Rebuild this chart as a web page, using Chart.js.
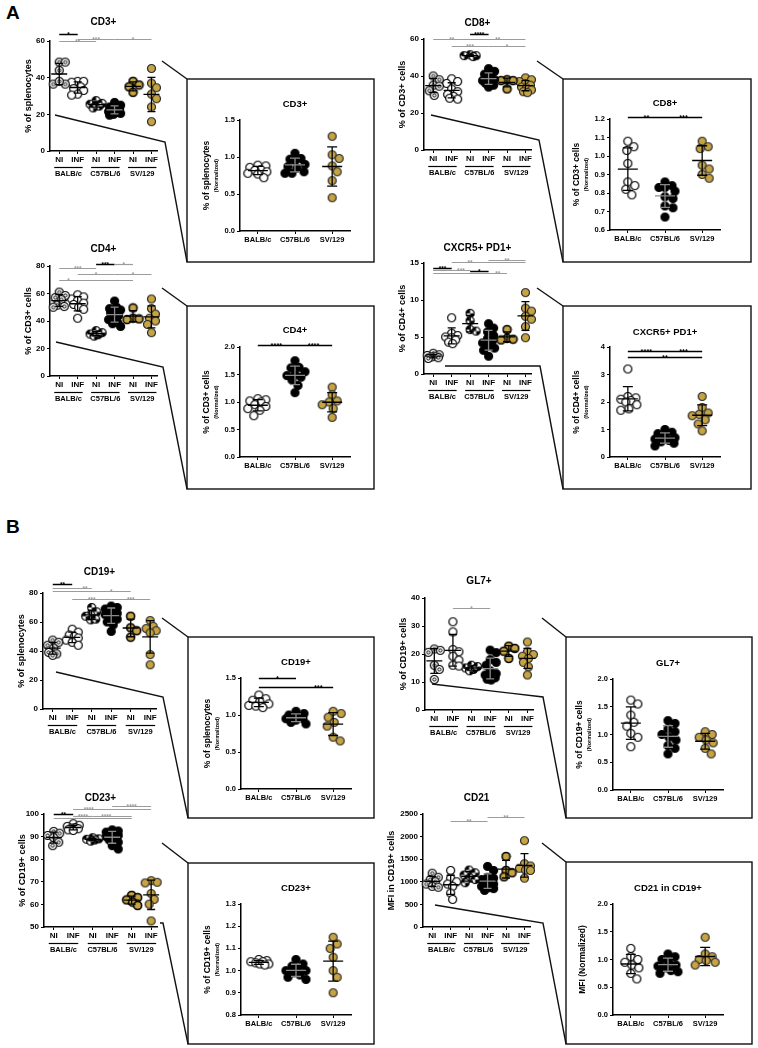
<!DOCTYPE html>
<html>
<head>
<meta charset="utf-8">
<script src="https://cdn.jsdelivr.net/npm/chart.js@4.4.0/dist/chart.umd.min.js"></script>
<style>
  body { margin: 0; background: #fff; }
  #page { position: relative; width: 758px; height: 1048px; overflow: hidden; font-family: "Liberation Sans", Arial, sans-serif; }
  #page canvas { position: absolute; }
  #frame { position: absolute; left: 0; top: 0; }
  .letter { position: absolute; font-weight: bold; font-size: 19px; }
</style>
</head>
<body>
<div id="page">
  <svg id="frame" width="758" height="1048" fill="none" stroke="#111" stroke-width="1.4">
    <rect x="187" y="79" width="187" height="183"/>
    <rect x="563" y="79" width="188" height="183"/>
    <rect x="187" y="306" width="187" height="183"/>
    <rect x="563" y="306" width="188" height="183"/>
    <rect x="188" y="637" width="186" height="181"/>
    <rect x="566" y="637" width="186" height="181"/>
    <rect x="188" y="863" width="186" height="181"/>
    <rect x="566" y="862" width="186" height="182"/>
    <polyline points="55,115 165,142 187,262"/><polyline points="162,61 187,79"/>
    <polyline points="431,115 539,140 563,262"/><polyline points="537,61 563,79"/>
    <polyline points="56,342 163,367 187,489"/><polyline points="162,288 187,306"/>
    <polyline points="445,366 540,366 563,489"/><polyline points="537,288 563,306"/>
    <polyline points="56,672 163,697 188,818"/><polyline points="162,618 188,637"/>
    <polyline points="432,684 543,697 566,818"/><polyline points="542,618 566,637"/>
    <polyline points="160,923 163,923 188,1044"/><polyline points="162,843 188,863"/>
    <polyline points="435,905 543,923 566,1044"/><polyline points="542,843 566,862"/>
  </svg>
  <div class="letter" style="left:6px;top:2px">A</div>
  <div class="letter" style="left:6px;top:516px">B</div>
</div>
<script>
// groups: NI / INF for each strain
const smallCats = ['NI', 'INF', 'NI', 'INF', 'NI', 'INF']
const strains = ['BALB/c', 'C57BL/6', 'SV/129']

// percentages (NI BALB/c, INF BALB/c, NI C57BL/6, INF C57BL/6, NI SV/129, INF SV/129)
const cd3Pct = [
  [48.5, 48.5, 44, 36.5, 36.5, 38],
  [38, 38, 37.5, 35, 34, 33, 31, 30.5],
  [27.5, 26, 25.5, 25, 24.5, 23.5],
  [26.5, 25, 24, 23.5, 23, 22, 21.5, 21, 20.5, 20, 19.5],
  [38, 36, 35, 32],
  [45, 37, 34.5, 31, 28.5, 24, 16]
]
const cd8Pct = [
  [40, 38, 35, 34.5, 32, 29.5],
  [38.5, 37, 36, 33, 31.5, 30, 29, 28, 27.5],
  [51.5, 51, 50.5, 51],
  [44, 42.5, 41, 40, 39, 38, 37.5, 37, 36, 35, 34],
  [38, 37.5, 37.5, 33],
  [39, 38, 37, 36, 35, 34, 33.5, 32.5, 31.5, 31]
]
const cd4Pct = [
  [61, 58.5, 57, 55.5, 51.5, 50, 50.5],
  [59, 57.5, 56, 55, 53, 52, 50, 48.5, 42],
  [33, 31.5, 30.5, 30, 29],
  [54.5, 50, 49, 48, 47, 46, 44, 43, 41, 39, 38, 36],
  [49.5, 42, 41.5, 41],
  [56, 49, 45, 42, 40, 37.5, 31.5]
]
const tfhPct = [
  [2.8, 2.6, 2.5, 2.4, 2.3, 2.2, 2.1],
  [7.6, 5.5, 5.2, 5, 4.9, 4.6, 4.3, 4.1],
  [8.2, 7.2, 6.0, 5.8],
  [6.8, 6.2, 5.7, 5.2, 4.8, 4.5, 4.2, 3.8, 3.5, 3.2, 2.4],
  [6, 4.8, 4.7, 4.6],
  [11, 8.9, 8.5, 7.8, 7.4, 6.4, 4.9]
]
const cd19Pct = [
  [47.5, 46, 44, 42, 39, 38, 37],
  [55, 53, 51, 50, 49, 47.5, 46, 44],
  [70, 67, 65, 64, 61.5, 62],
  [71, 70, 69, 68, 67, 66, 65, 63, 62, 60, 58, 53.5],
  [64, 56, 54, 49.5],
  [61, 57, 55.5, 54, 52.5, 37.5, 30.5]
]
const gl7Pct = [
  [21.8, 21.3, 20.6, 16, 14.5, 10.9],
  [31.5, 27.9, 21.6, 20.8, 19.2, 17.8, 16, 15.7],
  [16, 15.5, 15, 14.5, 14],
  [21.4, 20.5, 18, 17, 16, 14, 13, 12.5, 12, 11.5, 11, 10.7],
  [22.8, 22, 21, 18.4],
  [24.3, 20.8, 19.8, 19.2, 18.4, 17, 15.4, 12.5]
]
const cd23Pct = [
  [92.3, 91.5, 90.5, 89.5, 87.5, 86],
  [95.7, 95, 94.5, 94, 93.8, 93.5, 93, 92.7],
  [89.5, 89, 88.8, 88.5, 88],
  [93, 92.5, 92, 91.5, 91, 90.5, 90, 89.5, 88.5, 87.5, 86, 84.5],
  [64, 63, 62, 61, 59.5],
  [70.5, 69.8, 69.5, 64.8, 62.2, 60.1, 52.7]
]
const cd21Mfi = [
  [1190, 1100, 1050, 1000, 950, 900, 880],
  [1250, 1080, 1000, 950, 900, 750, 610],
  [1260, 1200, 1150, 1080, 980, 1050],
  [1340, 1250, 1100, 1080, 1050, 1000, 980, 950, 900, 870, 850, 810],
  [1560, 1250, 1200, 1110],
  [1910, 1400, 1350, 1300, 1260, 1250, 1080]
]

// normalized values (BALB/c, C57BL/6, SV/129)
const cd3Norm = [[0.89, 0.88, 0.86, 0.83, 0.82, 0.8, 0.78, 0.77, 0.72], [1.05, 0.98, 0.97, 0.95, 0.9, 0.87, 0.85, 0.8, 0.78, 0.78], [1.28, 1.03, 0.98, 0.88, 0.8, 0.68, 0.45]]
const cd8Norm = [[1.08, 1.05, 1.03, 0.96, 0.86, 0.84, 0.82, 0.79], [0.86, 0.84, 0.83, 0.83, 0.81, 0.78, 0.77, 0.73, 0.72, 0.67], [1.08, 1.05, 1.04, 0.95, 0.93, 0.9, 0.88]]
const cd4Norm = [[1.06, 1.04, 1.02, 1.0, 0.95, 0.92, 0.88, 0.85, 0.75], [1.75, 1.63, 1.62, 1.55, 1.5, 1.48, 1.45, 1.4, 1.3, 1.17], [1.27, 1.13, 1.02, 1.0, 0.95, 0.88, 0.72]]
const tfhNorm = [[3.2, 2.2, 2.15, 2.1, 2.05, 2.0, 1.9, 1.75, 1.7], [1.0, 0.9, 0.85, 0.75, 0.7, 0.65, 0.6, 0.55, 0.5, 0.4], [2.2, 1.8, 1.6, 1.55, 1.5, 1.35, 1.2, 0.95]]
const cd19Norm = [[1.27, 1.22, 1.2, 1.18, 1.15, 1.13, 1.12, 1.1], [1.05, 1.02, 1.0, 0.98, 0.97, 0.95, 0.95, 0.93, 0.9, 0.88], [1.05, 1.02, 0.97, 0.9, 0.85, 0.7, 0.65]]
const gl7Norm = [[1.62, 1.55, 1.35, 1.22, 1.15, 1.02, 0.95, 0.78], [1.25, 1.2, 1.1, 1.05, 1.0, 0.95, 0.9, 0.8, 0.75, 0.65], [1.05, 1.0, 0.95, 0.9, 0.85, 0.75, 0.65]]
const cd23Norm = [[1.05, 1.045, 1.04, 1.04, 1.035, 1.03, 1.03, 1.025], [1.05, 1.03, 1.02, 1.01, 1.0, 1.0, 0.99, 0.98, 0.97, 0.96], [1.15, 1.12, 1.1, 1.06, 1.0, 0.97, 0.9]]
const cd21Norm = [[1.2, 1.05, 1.0, 0.95, 0.9, 0.85, 0.75, 0.65], [1.1, 1.05, 1.0, 0.95, 0.9, 0.88, 0.85, 0.8, 0.78, 0.75], [1.4, 1.1, 1.05, 1.0, 0.98, 0.95, 0.9]]

// significance: [from group, to group, stars, bar height (axis units), black?, star position]
const cd3Sig = [[0, 1, '*', 64, 1], [0, 2, '**', 59.8, 0], [1, 3, '***', 61, 0], [3, 5, '*', 61, 0]]
const cd8Sig = [[0, 2, '**', 59.8, 0], [2, 3, '****', 62.5, 1], [2, 5, '**', 59.8, 0], [1, 3, '***', 56.4, 0], [3, 5, '*', 56.4, 0]]
const cd4Sig = [[0, 2, '***', 78.6, 0], [2, 3, '***', 81.7, 1], [3, 4, '*', 81.7, 0], [1, 3, '*', 74.4, 0], [3, 5, '*', 74.4, 0], [0, 4, '*', 70, 0, 0.5]]
const tfhSig = [[0, 1, '***', 14.35, 1], [1, 5, '**', 15.1, 0, 2], [3, 5, '**', 15.4, 0], [0, 2, '***', 14.1, 0, 1.5], [2, 3, '*', 13.9, 1], [0, 4, '**', 13.65, 0, 3.5]]
const cd19Sig = [[0, 1, '**', 86.2, 1], [0, 2, '**', 83.5, 0, 1.66], [0, 4, '*', 81.2, 0, 3], [1, 3, '***', 75.9, 0], [3, 5, '***', 75.9, 0]]
const gl7Sig = [[1, 3, '*', 36.4, 0]]
const cd23Sig = [[0, 1, '**', 100, 1], [1, 5, '****', 102.2, 0, 1.8], [3, 5, '****', 103.7, 0], [1, 2, '****', 99.3, 0], [2, 4, '****', 99.3, 0, 2.7], [0, 4, '', 98.2, 0]]
const cd21Sig = [[1, 3, '**', 2352, 0], [3, 5, '**', 2426, 0]]
const cd8NormSig = [[0, 1, '**', 1.211, 1], [1, 2, '***', 1.211, 1]]
const cd4NormSig = [[0, 1, '****', 2.03, 1], [1, 2, '****', 2.03, 1]]
const tfhNormSig = [[0, 1, '****', 3.87, 1], [1, 2, '***', 3.87, 1], [0, 2, '**', 3.62, 1]]
const cd19NormSig = [[0, 1, '*', 1.5, 1], [0, 2, '***', 1.38, 1, 1.6]]

const FONT = '"Liberation Sans", Arial, sans-serif'
Chart.defaults.font.family = FONT
Chart.defaults.color = '#000'

const page = document.getElementById('page')
const GOLD = '#c6a443'

function dotImage (kind) {
  const c = document.createElement('canvas')
  c.width = c.height = 11
  const g = c.getContext('2d')
  g.translate(5.5, 5.5)
  g.beginPath(); g.arc(0, 0, 4, 0, Math.PI * 2)
  g.fillStyle = kind === 'solid' ? '#000' : kind.startsWith('gold') ? GOLD : '#fff'
  g.fill()
  if (kind === 'quarter') {
    g.fillStyle = '#000'
    g.beginPath(); g.moveTo(0, 0); g.arc(0, 0, 4, Math.PI, Math.PI * 1.5); g.closePath(); g.fill()
    g.beginPath(); g.moveTo(0, 0); g.arc(0, 0, 4, 0, Math.PI * 0.5); g.closePath(); g.fill()
  }
  g.beginPath(); g.arc(0, 0, 4, 0, Math.PI * 2)
  g.lineWidth = kind === 'goldRing' ? 1.6 : 1.2
  g.strokeStyle = kind === 'gold' ? '#2a2a2a' : '#000'
  g.stroke()
  if (kind === 'ring') {
    g.beginPath(); g.arc(0, 0, 1.6, 0, Math.PI * 2); g.lineWidth = 1; g.stroke()
  }
  return c
}
const dots = {}
;['ring', 'open', 'quarter', 'solid', 'goldRing', 'gold'].forEach(k => { dots[k] = dotImage(k) })
const smallStyles = ['ring', 'open', 'quarter', 'solid', 'goldRing', 'gold']
const normStyles = ['open', 'solid', 'gold']

// spread points sideways, kept inside a narrow column like the original scatter
function swarm (vals, pxX, pxY, gap, maxDx) {
  const placed = []
  const offs = []
  vals.map((v, i) => i).sort((a, b) => vals[b] - vals[a]).forEach(i => {
    const py = vals[i] * pxY
    let best = 0
    let bestD = -1
    for (let k = 0; k <= maxDx * 2; k++) {
      const c = k === 0 ? 0 : (k % 2 ? 1 : -1) * Math.ceil(k / 2)
      const d = placed.length ? Math.min(...placed.map(q => Math.hypot(q[0] - c, q[1] - py))) : 99
      if (d >= gap) { best = c; break }
      if (d > bestD + 0.3) { bestD = d; best = c }
    }
    placed.push([best, py])
    offs[i] = best / pxX
  })
  return offs
}

function deco (p) {
  const norm = p.norm
  return {
    id: 'deco',
    afterDatasetsDraw (chart) {
      const { ctx, scales: { x, y } } = chart
      ctx.save()
      p.data.forEach((vals, i) => {
        const n = vals.length
        const m = vals.reduce((a, b) => a + b, 0) / n
        const sd = Math.sqrt(vals.reduce((a, b) => a + (b - m) ** 2, 0) / (n - 1))
        const cx = x.getPixelForValue(i)
        const hw = norm ? 10 : 8
        const cw = norm ? 5 : 4
        const ym = y.getPixelForValue(m)
        const yt = y.getPixelForValue(m + sd)
        const yb = y.getPixelForValue(Math.max(m - sd, p.min))
        ctx.strokeStyle = (norm ? i === 1 : i === 3) ? '#8a8a8a' : '#000'
        ctx.lineWidth = 1.3
        ctx.beginPath()
        ctx.moveTo(cx - hw, ym); ctx.lineTo(cx + hw, ym)
        ctx.moveTo(cx, yt); ctx.lineTo(cx, yb)
        ctx.moveTo(cx - cw, yt); ctx.lineTo(cx + cw, yt)
        ctx.moveTo(cx - cw, yb); ctx.lineTo(cx + cw, yb)
        ctx.stroke()
      })
      p.sig.forEach(([a, b, lab, v, dark, at]) => {
        const yy = Math.round(y.getPixelForValue(v)) + 0.5
        const col = dark ? '#000' : '#9c9c9c'
        ctx.strokeStyle = col
        ctx.lineWidth = dark ? 1.5 : 1.2
        ctx.beginPath()
        ctx.moveTo(x.getPixelForValue(a), yy); ctx.lineTo(x.getPixelForValue(b), yy)
        ctx.stroke()
        ctx.fillStyle = col
        ctx.font = `bold ${norm ? 7.5 : 6.5}px ${FONT}`
        ctx.textAlign = 'center'
        ctx.textBaseline = 'alphabetic'
        ctx.fillText(lab, x.getPixelForValue(at === undefined ? (a + b) / 2 : at), yy + 2.5)
      })
      ctx.restore()
    },
    afterDraw (chart) {
      const { ctx, chartArea: ca, scales: { x } } = chart
      ctx.save()
      ctx.fillStyle = '#000'
      ctx.textAlign = 'center'
      ctx.textBaseline = 'middle'
      ctx.font = `bold ${norm ? 9.5 : 10}px ${FONT}`
      ctx.fillText(p.title, (ca.left + ca.right) / 2, ca.top - p.tg)
      const mid = (ca.top + ca.bottom) / 2
      const yTitle = (txt, dx, size) => {
        ctx.save()
        ctx.translate(ca.left - dx, mid)
        ctx.rotate(-Math.PI / 2)
        ctx.font = `bold ${size}px ${FONT}`
        ctx.fillText(txt, 0, 0)
        ctx.restore()
      }
      if (norm) {
        if (p.sub) {
          yTitle(p.ytitle, 33, 8.5)
          yTitle(p.sub, 24, 5.5)
        } else {
          yTitle(p.ytitle, 30, 8.5)
        }
      } else {
        yTitle(p.ytitle, p.yt || 21, 9)
        ctx.strokeStyle = '#000'
        ctx.lineWidth = 1.2
        ctx.font = `bold 7.5px ${FONT}`
        strains.forEach((s, g) => {
          const x1 = x.getPixelForValue(2 * g) - 5
          const x2 = x.getPixelForValue(2 * g + 1) + 5
          const ly = Math.round(ca.bottom + 16) + 0.5
          ctx.beginPath(); ctx.moveTo(x1, ly); ctx.lineTo(x2, ly); ctx.stroke()
          ctx.fillText(s, (x1 + x2) / 2, ca.bottom + 23)
        })
      }
      ctx.restore()
    }
  }
}

function panel (p) {
  const norm = !!p.norm
  const padL = 50
  const padT = 46
  const padR = 12
  const padB = norm ? 20 : 32
  const W = padL + p.w + padR
  const H = padT + p.h + padB
  const cv = document.createElement('canvas')
  cv.width = W
  cv.height = H
  Object.assign(cv.style, { left: (p.x - padL) + 'px', top: (p.y - padT) + 'px', width: W + 'px', height: H + 'px' })
  page.appendChild(cv)

  const cats = norm ? strains : smallCats
  const xmin = norm ? -0.48 : -0.5
  const xmax = norm ? 2.48 : 5.3
  const pxX = p.w / (xmax - xmin)
  const pxY = p.h / (p.max - p.min)
  const styles = norm ? normStyles : smallStyles
  const datasets = p.data.map((vals, i) => {
    const offs = norm ? swarm(vals, pxX, pxY, 7.5, 10) : swarm(vals, pxX, pxY, 6.5, 6)
    return {
      data: vals.map((v, k) => ({ x: i + offs[k], y: v })),
      pointStyle: dots[styles[i]],
      pointRadius: 4,
      clip: false
    }
  })
  const tickFont = { size: norm ? 7.5 : 8, weight: 'bold' }
  new Chart(cv, {
    type: 'scatter',
    data: { datasets },
    options: {
      responsive: false,
      animation: false,
      events: [],
      layout: { padding: { left: 0, top: padT, right: padR, bottom: 0 } },
      plugins: { legend: { display: false }, tooltip: { enabled: false }, title: { display: false } },
      scales: {
        x: {
          type: 'linear',
          min: xmin,
          max: xmax,
          afterBuildTicks: s => { s.ticks = cats.map((c, i) => ({ value: i })) },
          afterFit: s => { s.height = padB },
          grid: { drawOnChartArea: false, drawTicks: true, tickLength: 3, color: '#000', lineWidth: 1 },
          border: { display: true, color: '#000', width: 1.5 },
          ticks: { callback: v => cats[v], font: tickFont, color: '#000', padding: 1, autoSkip: false, maxRotation: 0, minRotation: 0 }
        },
        y: {
          min: p.min,
          max: p.max,
          afterFit: s => { s.width = padL },
          grid: { drawOnChartArea: false, drawTicks: true, tickLength: 3, color: '#000', lineWidth: 1 },
          border: { display: true, color: '#000', width: 1.5 },
          ticks: { stepSize: p.step, callback: v => v.toFixed(p.dec || 0), font: tickFont, color: '#000', padding: 2 }
        }
      }
    },
    plugins: [deco(p)]
  })
}

const panels = [
  { data: cd3Pct, sig: cd3Sig, title: 'CD3+', ytitle: '% of splenocytes', x: 49.5, y: 41, w: 107, h: 110, min: 0, max: 60, step: 20, tg: 19 },
  { data: cd8Pct, sig: cd8Sig, title: 'CD8+', ytitle: '% of CD3+ cells', x: 424, y: 39, w: 107, h: 111, min: 0, max: 60, step: 20, tg: 16 },
  { data: cd4Pct, sig: cd4Sig, title: 'CD4+', ytitle: '% of CD3+ cells', x: 50, y: 266, w: 107, h: 110, min: 0, max: 80, step: 20, tg: 17 },
  { data: tfhPct, sig: tfhSig, title: 'CXCR5+ PD1+', ytitle: '% of CD4+ cells', x: 424, y: 263, w: 107, h: 111, min: 0, max: 15, step: 5, tg: 15 },
  { data: cd19Pct, sig: cd19Sig, title: 'CD19+', ytitle: '% of splenocytes', x: 43, y: 593, w: 113, h: 116, min: 0, max: 80, step: 20, tg: 21 },
  { data: gl7Pct, sig: gl7Sig, title: 'GL7+', ytitle: '% of CD19+ cells', x: 425, y: 598, w: 108, h: 112, min: 0, max: 40, step: 10, tg: 17 },
  { data: cd23Pct, sig: cd23Sig, title: 'CD23+', ytitle: '% of CD19+ cells', x: 44, y: 814, w: 113, h: 113, min: 50, max: 100, step: 10, tg: 16 },
  { data: cd21Mfi, sig: cd21Sig, title: 'CD21', ytitle: 'MFI in CD19+ cells', x: 423, y: 814, w: 107, h: 113, min: 0, max: 2500, step: 500, tg: 16, yt: 31 },

  { norm: true, data: cd3Norm, sig: [], title: 'CD3+', ytitle: '% of splenocytes', sub: '(Normalized)', x: 240, y: 120, w: 110, h: 111, min: 0, max: 1.5, step: 0.5, dec: 1, tg: 16 },
  { norm: true, data: cd8Norm, sig: cd8NormSig, title: 'CD8+', ytitle: '% of CD3+ cells', sub: '(Normalized)', x: 610, y: 119, w: 110, h: 111, min: 0.6, max: 1.2, step: 0.1, dec: 1, tg: 16 },
  { norm: true, data: cd4Norm, sig: cd4NormSig, title: 'CD4+', ytitle: '% of CD3+ cells', sub: '(Normalized)', x: 240, y: 347, w: 110, h: 110, min: 0, max: 2, step: 0.5, dec: 1, tg: 17 },
  { norm: true, data: tfhNorm, sig: tfhNormSig, title: 'CXCR5+ PD1+', ytitle: '% of CD4+ cells', sub: '(Normalized)', x: 610, y: 347, w: 110, h: 110, min: 0, max: 4, step: 1, tg: 15 },
  { norm: true, data: cd19Norm, sig: cd19NormSig, title: 'CD19+', ytitle: '% of splenocytes', sub: '(Normalized)', x: 241, y: 678, w: 110, h: 111, min: 0, max: 1.5, step: 0.5, dec: 1, tg: 16 },
  { norm: true, data: gl7Norm, sig: [], title: 'GL7+', ytitle: '% of CD19+ cells', sub: '(Normalized)', x: 613, y: 679, w: 110, h: 111, min: 0, max: 2, step: 0.5, dec: 1, tg: 16 },
  { norm: true, data: cd23Norm, sig: [], title: 'CD23+', ytitle: '% of CD19+ cells', sub: '(Normalized)', x: 241, y: 904, w: 110, h: 111, min: 0.8, max: 1.3, step: 0.1, dec: 1, tg: 16 },
  { norm: true, data: cd21Norm, sig: [], title: 'CD21 in CD19+', ytitle: 'MFI (Normalized)', x: 613, y: 904, w: 110, h: 111, min: 0, max: 2, step: 0.5, dec: 1, tg: 16 }
]

panels.forEach(panel)
</script>
</body>
</html>
